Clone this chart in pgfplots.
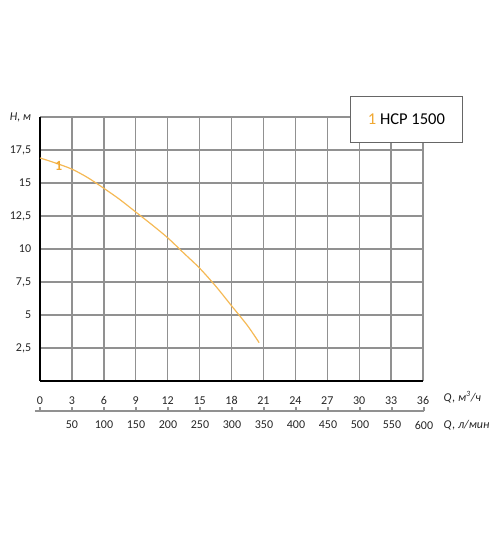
\documentclass[border=0pt]{standalone}
\usepackage{pgfplots}
\pgfplotsset{compat=1.18}
\usepackage{fontspec}
\setmainfont{Carlito}
\definecolor{curve}{RGB}{245,185,85}
\definecolor{lbl}{RGB}{240,168,50}
\definecolor{gridc}{RGB}{145,145,145}
\begin{document}
\begin{tikzpicture}
\useasboundingbox (-30pt,-117.75pt) rectangle (345pt,285.75pt);
\begin{axis}[
  scale only axis,
  width=287.25pt, height=198pt,
  xmin=0, xmax=36, ymin=0, ymax=20,
  axis lines=left,
  x axis line style={-, black, line width=1.7pt},
  y axis line style={-, black, line width=2.2pt},
  xtick={0,3,...,36},
  ytick={2.5,5,7.5,10,12.5,15,17.5,20},
  yticklabels={{2,5},5,{7,5},10,{12,5},15,{17,5},{\textit{H, м}}},
  tick style={draw=none},
  grid=major,
  major grid style={gridc, line width=1pt},
  ticklabel style={font=\fontsize{9}{11}\selectfont, text=black!85},
  xticklabel shift=6pt,
  yticklabel shift=1pt,
  /pgf/number format/assume math mode=true,
  clip=false,
]
\addplot[curve, line width=0.9pt, smooth] coordinates {
  (0,16.9) (1.5,16.5) (3,16.05) (4.5,15.4) (6,14.6) (7.5,13.75)
  (9,12.8) (10.5,11.85) (12,10.85) (13.5,9.7) (15,8.55) (16.5,7.2)
  (18,5.7) (19.5,4.2) (20.6,2.9)
};
\node[text=lbl, font=\fontsize{10.5}{12}\selectfont\bfseries] at (axis cs:1.75,16.3) {1};
\node[draw=black!60, fill=white, line width=0.6pt, anchor=north west,
      minimum width=84pt, minimum height=34.5pt,
      font=\fontsize{12.4}{14}\selectfont]
  at (rel axis cs:0.8094,1.0795) {\textcolor{lbl}{1} HCP 1500};
\node[anchor=west, font=\fontsize{9}{11}\selectfont\itshape, text=black!85]
  at ([xshift=12pt,yshift=-12pt]rel axis cs:1,0) {Q, м\textsuperscript{3}/ч};
\node[anchor=west, font=\fontsize{9}{11}\selectfont\itshape, text=black!85]
  at ([xshift=12pt,yshift=-33pt]rel axis cs:1,0) {Q, л/мин};
\end{axis}
\begin{axis}[
  at={(-3.75pt,-22.5pt)}, anchor=south west,
  scale only axis,
  width=291.75pt, height=10pt,
  xmin=-7.8, xmax=600, ymin=0, ymax=1,
  axis x line=bottom, axis y line=none,
  x axis line style={-, gridc, line width=0.8pt},
  xtick={0,50,...,600},
  xticklabels={,50,100,150,200,250,300,350,400,450,500,550,600},
  major tick length=3pt, tick align=inside,
  xtick style={gridc, line width=0.8pt},
  ticklabel style={font=\fontsize{9}{11}\selectfont, text=black!85},
  xticklabel shift=4pt,
  /pgf/number format/assume math mode=true,
]
\end{axis}
\end{tikzpicture}
\end{document}
